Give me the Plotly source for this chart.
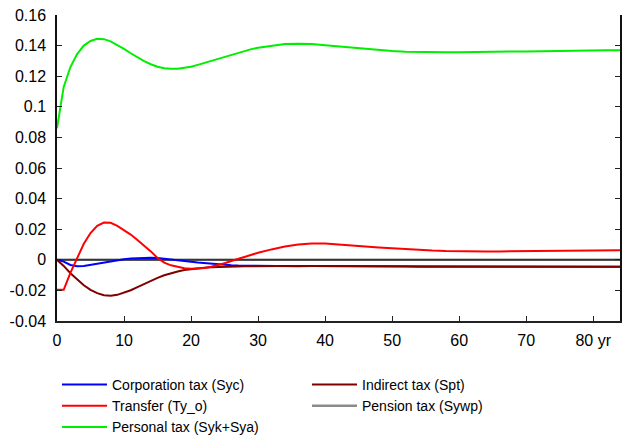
import plotly.graph_objects as go

# Horizon (years) at which the responses are recorded
years = [
    0, 1, 2, 3, 4, 5, 6, 7, 8, 9,
    10, 11, 12, 13, 14, 15, 16, 17, 18, 19,
    20, 21, 22, 23, 24, 25, 26, 27, 28, 29,
    30,
    32, 34, 36, 38, 40, 42, 44, 46, 48, 50,
    52, 54, 56, 58, 60, 62, 64, 66, 68, 70,
    72, 74, 76, 78, 80, 82, 84,
]

corporation_tax = [
    0.0, -0.0012, -0.0034, -0.0042, -0.0040, -0.0032, -0.0024, -0.0016, -0.0009, -0.0003,
    0.0003, 0.0008, 0.0011, 0.0013, 0.0013, 0.0011, 0.0007, 0.0002, -0.0003, -0.0008,
    -0.0013, -0.0018, -0.0022, -0.0026, -0.0030, -0.0033, -0.0035, -0.0037, -0.0038, -0.0039,
    -0.0040,
    -0.0041, -0.0042, -0.0042, -0.0041, -0.0041, -0.0040, -0.0040, -0.0041, -0.0042, -0.0043,
    -0.0044, -0.0045, -0.0045, -0.0046, -0.0046, -0.0046, -0.0046, -0.0046, -0.0046, -0.0046,
    -0.0046, -0.0046, -0.0046, -0.0046, -0.0046, -0.0046, -0.0046,
]

transfer = [
    -0.0196, -0.0196, -0.0085, 0.0015, 0.0105, 0.0175, 0.0222, 0.0243, 0.0242, 0.0222,
    0.0196, 0.0165, 0.0130, 0.0093, 0.0055, 0.0012, -0.0018, -0.0036, -0.0048, -0.0055,
    -0.0059, -0.0058, -0.0053, -0.0045, -0.0035, -0.0022, -0.0008, 0.0006, 0.0020, 0.0033,
    0.0046,
    0.0068, 0.0087, 0.0100, 0.0106, 0.0106, 0.0101, 0.0095, 0.0088, 0.0081, 0.0075,
    0.0069, 0.0064, 0.0060, 0.0057, 0.0055, 0.0054, 0.0054, 0.0055, 0.0056, 0.0057,
    0.0058, 0.0059, 0.0060, 0.0061, 0.0062, 0.0063, 0.0063,
]

personal_tax = [
    0.0860, 0.1130, 0.1260, 0.1345, 0.1400, 0.1430, 0.1445, 0.1442, 0.1428, 0.1405,
    0.1378, 0.1350, 0.1322, 0.1298, 0.1278, 0.1262, 0.1252, 0.1248, 0.1249, 0.1254,
    0.1262, 0.1274, 0.1287, 0.1300, 0.1315, 0.1328, 0.1342, 0.1355, 0.1366, 0.1377,
    0.1386,
    0.1400, 0.1410, 0.1412, 0.1410, 0.1403, 0.1395, 0.1386, 0.1377, 0.1370, 0.1364,
    0.1360, 0.1358, 0.1357, 0.1357, 0.1357, 0.1357, 0.1358, 0.1359, 0.1361, 0.1362,
    0.1364, 0.1366, 0.1367, 0.1368, 0.1369, 0.1370, 0.1370,
]

indirect_tax = [
    0.0, -0.0040, -0.0088, -0.0130, -0.0166, -0.0196, -0.0218, -0.0232, -0.0235, -0.0229,
    -0.0216, -0.0199, -0.0179, -0.0158, -0.0137, -0.0118, -0.0101, -0.0087, -0.0076, -0.0067,
    -0.0061, -0.0056, -0.0052, -0.0049, -0.0047, -0.0045, -0.0044, -0.0043, -0.0042, -0.0042,
    -0.0041,
    -0.0041, -0.0041, -0.0041, -0.0041, -0.0041, -0.0041, -0.0042, -0.0042, -0.0043, -0.0043,
    -0.0044, -0.0044, -0.0045, -0.0045, -0.0045, -0.0045, -0.0045, -0.0045, -0.0045, -0.0045,
    -0.0045, -0.0045, -0.0045, -0.0045, -0.0045, -0.0045, -0.0045,
]

pension_tax = [0.0] * len(years)

y_ticks = [-0.04, -0.02, 0, 0.02, 0.04, 0.06, 0.08, 0.1, 0.12, 0.14, 0.16]
y_tick_text = ["-0.04", "-0.02", "0", "0.02", "0.04", "0.06", "0.08", "0.1", "0.12", "0.14", "0.16"]
x_ticks = [0, 10, 20, 30, 40, 50, 60, 70, 80]
x_tick_text = ["0", "10", "20", "30", "40", "50", "60", "70", "80 yr"]

FONT = "Liberation Sans, Arial, Helvetica, sans-serif"

fig = go.Figure()

# Pension tax sits on the zero line; the black reference line is drawn over it
fig.add_trace(go.Scatter(x=years, y=pension_tax, mode="lines", name="Pension tax (Sywp)",
                         line=dict(color="#8a8a8a", width=2.4), legendrank=4))
fig.add_trace(go.Scatter(x=[years[0], years[-1]], y=[0, 0], mode="lines", showlegend=False,
                         hoverinfo="skip", line=dict(color="#1a1a1a", width=1.2)))

fig.add_trace(go.Scatter(x=years, y=corporation_tax, mode="lines", name="Corporation tax (Syc)",
                         line=dict(color="#0000ff", width=2), legendrank=1))
fig.add_trace(go.Scatter(x=years, y=indirect_tax, mode="lines", name="Indirect tax (Spt)",
                         line=dict(color="#800000", width=2), legendrank=2))
fig.add_trace(go.Scatter(x=years, y=transfer, mode="lines", name="Transfer (Ty_o)",
                         line=dict(color="#ff0000", width=2), legendrank=3))
fig.add_trace(go.Scatter(x=years, y=personal_tax, mode="lines", name="Personal tax (Syk+Sya)",
                         line=dict(color="#00ee00", width=2), legendrank=5))

fig.update_layout(
    width=626, height=439,
    margin=dict(l=57, r=4, t=15, b=118),
    paper_bgcolor="white", plot_bgcolor="white",
    font=dict(family=FONT, size=16, color="black"),
    showlegend=True,
    legend=dict(
        orientation="h",
        xref="container", x=57 / 626, xanchor="left",
        yref="container", y=1 - 369 / 439, yanchor="top",
        entrywidth=190, entrywidthmode="pixels",
        font=dict(family=FONT, size=14, color="black"),
        itemwidth=45, tracegroupgap=0, traceorder="normal",
        bgcolor="rgba(0,0,0,0)",
    ),
)

fig.update_xaxes(
    range=[0, 84], tickmode="array", tickvals=x_ticks, ticktext=x_tick_text,
    showgrid=False, zeroline=False,
    showline=True, linecolor="#222222", linewidth=2, mirror=False,
    ticks="inside", ticklen=5, tickcolor="#222222", tickwidth=1,
    tickfont=dict(size=16), ticklabelstandoff=4,
)
fig.update_yaxes(
    range=[-0.04, 0.16], tickmode="array", tickvals=y_ticks, ticktext=y_tick_text,
    showgrid=False, zeroline=False,
    showline=True, linecolor="#111111", linewidth=1.5, mirror="ticks",
    ticks="inside", ticklen=5, tickcolor="#222222", tickwidth=1,
    tickfont=dict(size=16), ticklabelstandoff=6,
)

fig.write_html("out.html")
